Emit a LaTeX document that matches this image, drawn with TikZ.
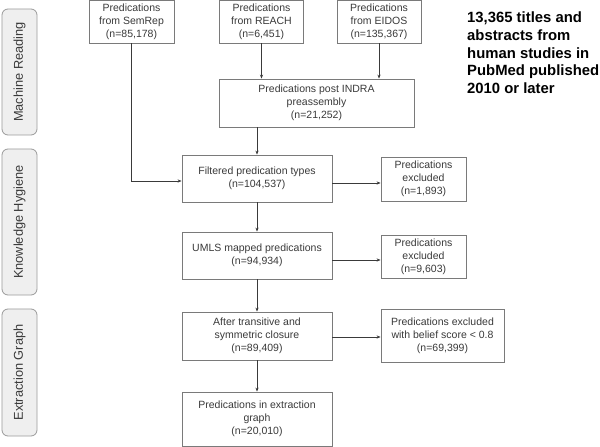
\documentclass[tikz,border=0pt]{standalone}
\usepackage{fontspec}
\setmainfont{Liberation Sans}
\usetikzlibrary{arrows.meta,calc}
\definecolor{txt}{HTML}{3A3A3A}
\definecolor{boxline}{HTML}{7A7A7A}
\definecolor{sidefill}{HTML}{EFEFEF}
\definecolor{sideline}{HTML}{9A9A9A}
\definecolor{arr}{HTML}{3A3A3A}
\tikzset{
  flowbox/.style={draw=boxline, line width=0.8bp, fill=white, text=txt, align=center, inner sep=1bp,
    font=\fontsize{10.5bp}{13bp}\selectfont},
  sidebox/.style={draw=sideline, line width=0.8bp, fill=sidefill, rounded corners=6bp, rotate=90, text=txt,
    minimum height=35bp, inner sep=0pt, font=\fontsize{12.8bp}{15bp}\selectfont},
  flowarrow/.style={draw=arr, line width=0.7bp, -{Stealth[length=4bp,width=3.2bp]}},
  note/.style={align=left, inner sep=0pt, text=black, font=\fontsize{14.85bp}{17.8bp}\selectfont\bfseries}
}
\begin{document}
\begin{tikzpicture}[x=1bp,y=-1bp]
\useasboundingbox (0,0) rectangle (600,447);
% side labels
\node[sidebox, minimum width=126bp] (mr) at (19.5,72) {Machine Reading};
\node[sidebox, minimum width=146bp] (kh) at (19.5,222) {Knowledge Hygiene};
\node[sidebox, minimum width=127bp] (eg) at (19.5,372.5) {Extraction Graph};
% sources
\node[flowbox, minimum width=85bp, minimum height=42.5bp] (sem) at (131.5,21.75) {Predications\\from SemRep\\(n=85,178)};
\node[flowbox, minimum width=84bp, minimum height=42.5bp] (reach) at (261.5,21.75) {Predications\\from REACH\\(n=6,451)};
\node[flowbox, minimum width=84bp, minimum height=42.5bp] (eidos) at (379,21.75) {Predications\\from EIDOS\\(n=135,367)};
\node[flowbox, minimum width=195bp, minimum height=48bp] (indra) at (316.5,103) {Predications post INDRA\\preassembly\\(n=21,252)};
% main column
\node[flowbox, minimum width=150bp, minimum height=47bp] (filt) at (257,178.5) {Filtered predication types\\(n=104,537)};
\node[flowbox, minimum width=150bp, minimum height=47bp] (umls) at (257,255.5) {UMLS mapped predications\\(n=94,934)};
\node[flowbox, minimum width=150bp, minimum height=48bp] (clos) at (257,336) {After transitive and\\symmetric closure\\(n=89,409)};
\node[flowbox, minimum width=150bp, minimum height=54bp] (final) at (257,419) {Predications in extraction\\graph\\(n=20,010)};
% excluded
\node[flowbox, minimum width=85bp, minimum height=44bp] (ex1) at (423.5,179) {Predications\\excluded\\(n=1,893)};
\node[flowbox, minimum width=85bp, minimum height=43bp] (ex2) at (423.5,256.5) {Predications\\excluded\\(n=9,603)};
\node[flowbox, minimum width=123bp, minimum height=53bp] (ex3) at (442.5,335.5) {Predications excluded\\with belief score < 0.8\\(n=69,399)};
% note
\node[note, anchor=north west] (nt) at (467,11.5) {13,365 titles and\\abstracts from\\human studies in\\PubMed published\\2010 or later};
% connectors
\draw[flowarrow] (reach.south) -- (reach.south |- indra.north);
\draw[flowarrow] (eidos.south) -- (eidos.south |- indra.north);
\draw[flowarrow] (sem.south) |- ([yshift=-2.5bp]filt.west);
\draw[flowarrow] (indra.south -| filt.north) -- (filt.north);
\draw[flowarrow] (filt.south) -- (umls.north);
\draw[flowarrow] (umls.south) -- (clos.north);
\draw[flowarrow] (clos.south) -- (final.north);
\draw[flowarrow] ([yshift=-4.5bp]filt.east) -- ([yshift=-4.5bp]filt.east -| ex1.west);
\draw[flowarrow] ([yshift=-4.5bp]umls.east) -- ([yshift=-4.5bp]umls.east -| ex2.west);
\draw[flowarrow] ([yshift=-1bp]clos.east) -- ([yshift=-1bp]clos.east -| ex3.west);
\end{tikzpicture}
\end{document}
